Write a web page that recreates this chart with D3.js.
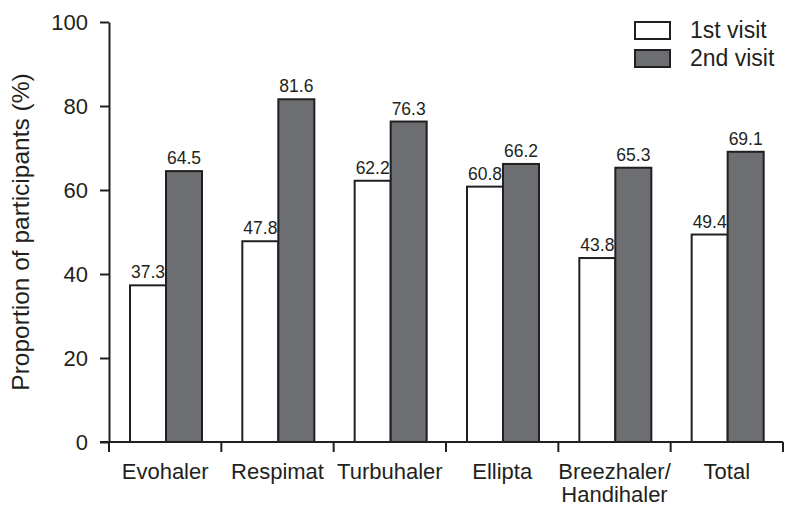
<!DOCTYPE html>
<meta charset="utf-8">
<style>
body { margin: 0; background: #fff; }
text { font-family: "Liberation Sans", Arial, sans-serif; fill: #231f20; }
.axis path, .axis line { stroke: #231f20; stroke-width: 2px; }
</style>
<body>
<script src="https://d3js.org/d3.v7.min.js"></script>
<script>

// data
var categories = ["Evohaler", "Respimat", "Turbuhaler", "Ellipta", "Breezhaler/\nHandihaler", "Total"];
var visit1 = [37.3, 47.8, 62.2, 60.8, 43.8, 49.4];
var visit2 = [64.5, 81.6, 76.3, 66.2, 65.3, 69.1];
var seriesNames = ["1st visit", "2nd visit"];
var yTicks = [0, 20, 40, 60, 80, 100];

var colors = ["#ffffff", "#6d6e71"];

var margin = {top: 22, right: 15, bottom: 74, left: 109},
    width = 798 - margin.left - margin.right,
    height = 516 - margin.top - margin.bottom;

var svg = d3.select("body").append("svg")
    .attr("width", 798)
    .attr("height", 516)
  .append("g")
    .attr("transform", "translate(" + margin.left + "," + margin.top + ")");

var x0 = d3.scaleBand().domain(categories).range([0, 674]);
var x1 = d3.scaleBand().domain([0, 1]).range([21, 93]);
var y = d3.scaleLinear().domain([0, 100]).range([height, 0]);

// bars
var groups = svg.selectAll(".grp")
    .data(categories)
  .enter().append("g")
    .attr("class", "grp")
    .attr("transform", function(d) { return "translate(" + x0(d) + ",0)"; });

groups.each(function(c, i) {
  var g = d3.select(this);
  var vals = [visit1[i], visit2[i]];
  g.selectAll("rect")
      .data(vals)
    .enter().append("rect")
      .attr("x", function(d, j) { return x1(j); })
      .attr("width", x1.bandwidth())
      .attr("y", function(d) { return y(d); })
      .attr("height", function(d) { return height - y(d); })
      .style("fill", function(d, j) { return colors[j]; })
      .style("stroke", "#231f20")
      .style("stroke-width", 2);
  g.selectAll(".lbl")
      .data(vals)
    .enter().append("text")
      .attr("class", "lbl")
      .attr("x", function(d, j) { return x1(j) + x1.bandwidth() / 2; })
      .attr("y", function(d) { return y(d) - 7; })
      .attr("text-anchor", "middle")
      .style("font-size", "17.5px")
      .text(function(d) { return d.toFixed(1); });
});

// x axis
var xAxis = svg.append("g")
    .attr("class", "axis")
    .attr("transform", "translate(0," + height + ")");
xAxis.append("line")
    .attr("x1", -9).attr("x2", 674)
    .attr("y1", 0).attr("y2", 0);
xAxis.selectAll(".tk")
    .data(d3.range(categories.length + 1))
  .enter().append("line")
    .attr("class", "tk")
    .attr("x1", function(d) { return d * x0.step(); })
    .attr("x2", function(d) { return d * x0.step(); })
    .attr("y1", 0).attr("y2", 10);
xAxis.selectAll(".cat")
    .data(categories)
  .enter().append("text")
    .attr("class", "cat")
    .attr("text-anchor", "middle")
    .style("font-size", "22px")
    .attr("transform", function(d) { return "translate(" + (x0(d) + x0.bandwidth() / 2) + ",37)"; })
    .each(function(d) {
      var t = d3.select(this);
      d.split("\n").forEach(function(s, k) {
        t.append("tspan").attr("x", 0).attr("dy", k ? 23 : 0).text(s);
      });
    });

// y axis
var yAxis = svg.append("g")
    .attr("class", "axis")
    .call(d3.axisLeft(y).tickValues(yTicks).tickSize(9).tickPadding(12).tickSizeOuter(0));
yAxis.select(".domain").style("stroke-width", 2);
yAxis.selectAll("text").style("font-size", "22px").style("fill", "#231f20")
    .style("font-family", "'Liberation Sans', Arial, sans-serif");

svg.append("text")
    .attr("transform", "rotate(-90)")
    .attr("x", -(232 - margin.top))
    .attr("y", -80)
    .attr("text-anchor", "middle")
    .style("font-size", "24.5px")
    .text("Proportion of participants (%)");

// legend
var legend = svg.selectAll(".legend")
    .data(seriesNames)
  .enter().append("g")
    .attr("class", "legend")
    .attr("transform", function(d, i) { return "translate(526," + (i * 28) + ")"; });
legend.append("rect")
    .attr("width", 35).attr("height", 17)
    .style("fill", function(d, i) { return colors[i]; })
    .style("stroke", "#231f20")
    .style("stroke-width", 2);
legend.append("text")
    .attr("x", 55).attr("y", 16)
    .style("font-size", "23px")
    .text(function(d) { return d; });

</script>
</body>
